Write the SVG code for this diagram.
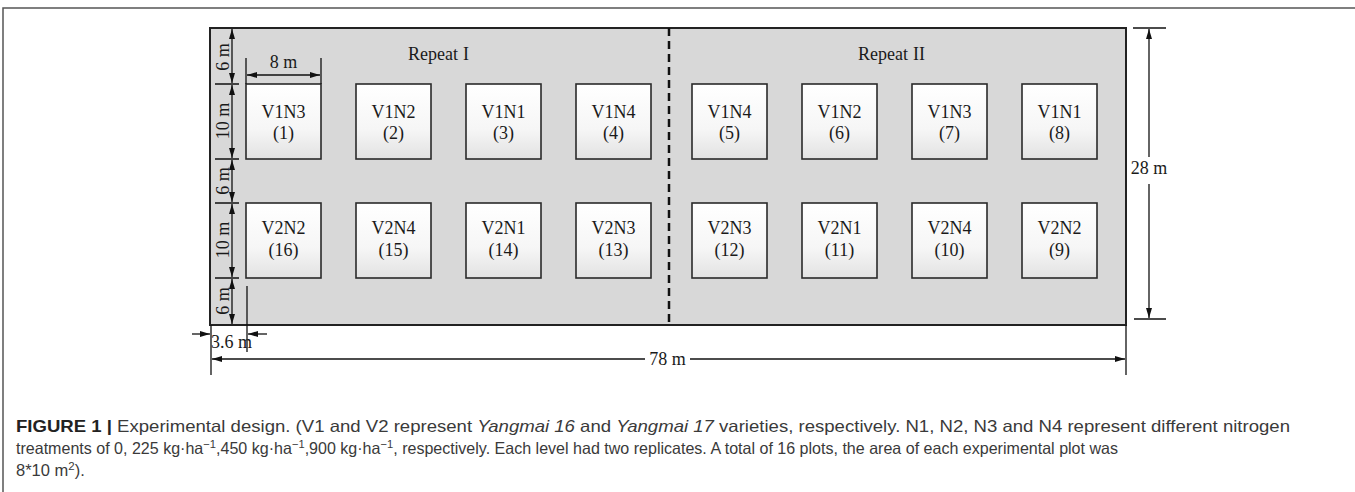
<svg xmlns="http://www.w3.org/2000/svg" width="1355" height="492" viewBox="0 0 1355 492">
  <defs>
    <linearGradient id="plotFill" x1="0" y1="0" x2="0" y2="1">
      <stop offset="0" stop-color="#ffffff"/>
      <stop offset="0.6" stop-color="#f6f6f6"/>
      <stop offset="1" stop-color="#e2e2e2"/>
    </linearGradient>
    <marker id="arr" viewBox="0 0 10 6" refX="10" refY="3" markerWidth="10" markerHeight="6" markerUnits="userSpaceOnUse" orient="auto-start-reverse">
      <path d="M0,0 L10,3 L0,6 Z" fill="#111"/>
    </marker>
  </defs>
  <style>
    .frame { fill: none; stroke: #555; stroke-width: 1.5; }
    .field { fill: #d8d8d8; stroke: #222; stroke-width: 2; }
    .plot rect { fill: url(#plotFill); stroke: #2a2a2a; stroke-width: 1.6; }
    .lbl { font-family: "Liberation Serif", "Times New Roman", serif; font-size: 18px; fill: #1a1a1a; }
    .plot text { text-anchor: middle; }
    .dim { stroke: #111; stroke-width: 1.3; fill: none; }
    .dimA { stroke: #111; stroke-width: 1.3; fill: none; marker-start: url(#arr); marker-end: url(#arr); }
    .dimE { stroke: #111; stroke-width: 1.3; fill: none; marker-end: url(#arr); }
    .divider { stroke: #111; stroke-width: 2.5; stroke-dasharray: 8 5; }
    .cap { font-family: "Liberation Sans", Arial, sans-serif; font-size: 16.5px; fill: #3a3a3a; }
    .sup { font-size: 11.5px; }
  </style>

  <!-- page frame -->
  <path class="frame" d="M3,492 V8 H1355"/>

  <!-- field -->
  <rect id="field" class="field" x="210" y="28" width="916" height="297"/>
  <line class="divider" x1="669" y1="28" x2="669" y2="325"/>
  <text class="lbl" x="408" y="60">Repeat<tspan x="463">I</tspan></text>
  <text class="lbl" x="858" y="60">Repeat<tspan x="913">II</tspan></text>

  <!-- plots, row 1 -->
  <g id="p1" class="plot"><rect x="246" y="84" width="75" height="75"/><text class="lbl" x="283.5" y="118">V1N3</text><text class="lbl" x="283.5" y="139">(1)</text></g>
  <g id="p2" class="plot"><rect x="356" y="84" width="75" height="75"/><text class="lbl" x="393.5" y="118">V1N2</text><text class="lbl" x="393.5" y="139">(2)</text></g>
  <g id="p3" class="plot"><rect x="466" y="84" width="75" height="75"/><text class="lbl" x="503.5" y="118">V1N1</text><text class="lbl" x="503.5" y="139">(3)</text></g>
  <g id="p4" class="plot"><rect x="576" y="84" width="75" height="75"/><text class="lbl" x="613.5" y="118">V1N4</text><text class="lbl" x="613.5" y="139">(4)</text></g>
  <g id="p5" class="plot"><rect x="692" y="84" width="75" height="75"/><text class="lbl" x="729.5" y="118">V1N4</text><text class="lbl" x="729.5" y="139">(5)</text></g>
  <g id="p6" class="plot"><rect x="802" y="84" width="75" height="75"/><text class="lbl" x="839.5" y="118">V1N2</text><text class="lbl" x="839.5" y="139">(6)</text></g>
  <g id="p7" class="plot"><rect x="912" y="84" width="75" height="75"/><text class="lbl" x="949.5" y="118">V1N3</text><text class="lbl" x="949.5" y="139">(7)</text></g>
  <g id="p8" class="plot"><rect x="1022" y="84" width="75" height="75"/><text class="lbl" x="1059.5" y="118">V1N1</text><text class="lbl" x="1059.5" y="139">(8)</text></g>

  <!-- plots, row 2 -->
  <g id="p16" class="plot"><rect x="246" y="203" width="75" height="75"/><text class="lbl" x="283.5" y="234">V2N2</text><text class="lbl" x="283.5" y="256">(16)</text></g>
  <g id="p15" class="plot"><rect x="356" y="203" width="75" height="75"/><text class="lbl" x="393.5" y="234">V2N4</text><text class="lbl" x="393.5" y="256">(15)</text></g>
  <g id="p14" class="plot"><rect x="466" y="203" width="75" height="75"/><text class="lbl" x="503.5" y="234">V2N1</text><text class="lbl" x="503.5" y="256">(14)</text></g>
  <g id="p13" class="plot"><rect x="576" y="203" width="75" height="75"/><text class="lbl" x="613.5" y="234">V2N3</text><text class="lbl" x="613.5" y="256">(13)</text></g>
  <g id="p12" class="plot"><rect x="692" y="203" width="75" height="75"/><text class="lbl" x="729.5" y="234">V2N3</text><text class="lbl" x="729.5" y="256">(12)</text></g>
  <g id="p11" class="plot"><rect x="802" y="203" width="75" height="75"/><text class="lbl" x="839.5" y="234">V2N1</text><text class="lbl" x="839.5" y="256">(11)</text></g>
  <g id="p10" class="plot"><rect x="912" y="203" width="75" height="75"/><text class="lbl" x="949.5" y="234">V2N4</text><text class="lbl" x="949.5" y="256">(10)</text></g>
  <g id="p9" class="plot"><rect x="1022" y="203" width="75" height="75"/><text class="lbl" x="1059.5" y="234">V2N2</text><text class="lbl" x="1059.5" y="256">(9)</text></g>

  <!-- dimension lines -->
  <g id="dimensions">
    <!-- left column: 6 / 10 / 6 / 10 / 6 m -->
    <path class="dim" d="M215,84 H239 M215,159 H239 M215,203 H239 M215,278 H239"/>
    <line class="dimA" x1="232" y1="29" x2="232" y2="83"/>
    <line class="dimA" x1="232" y1="85" x2="232" y2="158"/>
    <line class="dimA" x1="232" y1="160" x2="232" y2="202"/>
    <line class="dimA" x1="232" y1="204" x2="232" y2="277"/>
    <line class="dimA" x1="232" y1="279" x2="232" y2="324"/>
    <text class="lbl" text-anchor="middle" transform="translate(229,57) rotate(-90)">6 m</text>
    <text class="lbl" text-anchor="middle" transform="translate(229,121) rotate(-90)">10 m</text>
    <text class="lbl" text-anchor="middle" transform="translate(229,181) rotate(-90)">6 m</text>
    <text class="lbl" text-anchor="middle" transform="translate(229,240) rotate(-90)">10 m</text>
    <text class="lbl" text-anchor="middle" transform="translate(229,301) rotate(-90)">6 m</text>

    <!-- plot width: 8 m -->
    <path class="dim" d="M246,58 V84 M321,58 V84"/>
    <line class="dimA" x1="247" y1="75" x2="320" y2="75"/>
    <text class="lbl" text-anchor="middle" x="283.5" y="68">8 m</text>

    <!-- field depth: 28 m -->
    <path class="dim" d="M1133,28 H1166 M1134,319 H1166"/>
    <line class="dimE" x1="1149" y1="157" x2="1149" y2="29"/>
    <line class="dimE" x1="1149" y1="184" x2="1149" y2="318"/>
    <text class="lbl" text-anchor="middle" x="1149" y="174">28 m</text>

    <!-- field length: 78 m -->
    <path class="dim" d="M211,325 V375 M1126,325 V375"/>
    <line class="dimE" x1="645" y1="359" x2="212" y2="359"/>
    <line class="dimE" x1="690" y1="359" x2="1125" y2="359"/>
    <text class="lbl" text-anchor="middle" x="667.5" y="365">78 m</text>

    <!-- border: 3.6 m -->
    <path class="dim" d="M247,286 V352"/>
    <line class="dimE" x1="192" y1="334" x2="210" y2="334"/>
    <line class="dimE" x1="267" y1="334" x2="248" y2="334"/>
    <text class="lbl" x="211" y="348">3.6 m</text>
  </g>

  <!-- caption -->
  <text class="cap" x="16" y="432" textLength="1274" lengthAdjust="spacingAndGlyphs"><tspan font-weight="bold" fill="#222">FIGURE 1 | </tspan>Experimental design. (V1 and V2 represent <tspan font-style="italic">Yangmai 16</tspan> and <tspan font-style="italic">Yangmai 17</tspan> varieties, respectively. N1, N2, N3 and N4 represent different nitrogen</text>
  <text class="cap" x="16" y="454" textLength="1102" lengthAdjust="spacingAndGlyphs">treatments of 0, 225 kg·ha<tspan class="sup" dy="-6">−1</tspan><tspan dy="6">,450 kg·ha</tspan><tspan class="sup" dy="-6">−1</tspan><tspan dy="6">,900 kg·ha</tspan><tspan class="sup" dy="-6">−1</tspan><tspan dy="6">, respectively. Each level had two replicates. A total of 16 plots, the area of each experimental plot was</tspan></text>
  <text class="cap" x="16" y="476">8*10 m<tspan class="sup" dy="-6">2</tspan><tspan dy="6">).</tspan></text>
</svg>
